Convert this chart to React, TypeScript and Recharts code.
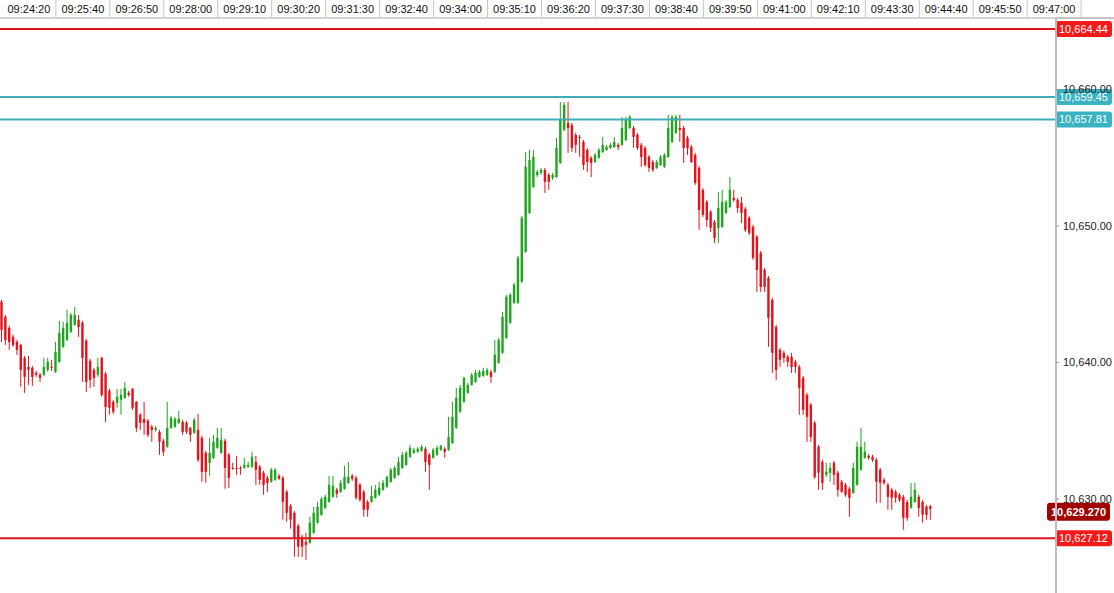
import { Bar, ComposedChart, ReferenceLine, XAxis, YAxis } from 'recharts';

// one row per 5s candle: open, high, low, close
const candles: [number, number, number, number][] = [
  [10644.43, 10644.58, 10641.50, 10642.38], [10643.34, 10643.48, 10641.28, 10641.65], [10642.53, 10642.68, 10640.92, 10641.50],
  [10641.87, 10642.02, 10641.14, 10641.28], [10641.50, 10641.65, 10640.55, 10640.92], [10641.28, 10641.36, 10638.21, 10639.45],
  [10640.33, 10640.48, 10637.77, 10638.94], [10639.67, 10640.48, 10638.35, 10639.45], [10639.60, 10639.75, 10638.28, 10638.94],
  [10639.23, 10639.38, 10638.94, 10639.09], [10639.09, 10639.23, 10638.57, 10638.87], [10639.09, 10640.33, 10639.01, 10639.67],
  [10639.45, 10640.33, 10639.31, 10640.04], [10639.67, 10640.19, 10639.38, 10639.60], [10639.31, 10641.50, 10639.23, 10640.77],
  [10640.04, 10643.04, 10639.97, 10642.16], [10641.14, 10642.97, 10641.06, 10642.53], [10641.65, 10643.85, 10641.58, 10642.90],
  [10642.24, 10643.63, 10642.16, 10643.48], [10642.75, 10644.07, 10642.68, 10643.48], [10643.12, 10643.48, 10641.87, 10642.60],
  [10642.90, 10643.04, 10638.57, 10640.33], [10641.58, 10641.72, 10637.84, 10638.57], [10640.11, 10640.26, 10638.13, 10638.72],
  [10639.45, 10639.60, 10638.21, 10638.87], [10639.09, 10640.33, 10638.94, 10639.67], [10640.33, 10640.41, 10637.48, 10637.62],
  [10639.16, 10639.31, 10635.64, 10636.74], [10637.92, 10638.06, 10636.16, 10636.67], [10637.11, 10637.26, 10636.23, 10636.38],
  [10637.04, 10638.06, 10636.67, 10637.48], [10637.26, 10638.06, 10636.16, 10637.62], [10637.40, 10638.57, 10637.33, 10638.13],
  [10637.77, 10637.92, 10637.48, 10637.62], [10638.06, 10638.13, 10636.52, 10636.67], [10637.11, 10637.18, 10634.91, 10635.20],
  [10636.16, 10636.30, 10635.06, 10635.57], [10635.86, 10637.11, 10634.69, 10635.57], [10635.72, 10635.86, 10634.54, 10634.69],
  [10635.28, 10635.42, 10634.18, 10635.06], [10635.06, 10635.35, 10634.91, 10635.20], [10634.91, 10635.06, 10633.23, 10634.18],
  [10634.25, 10634.40, 10633.15, 10633.45], [10633.81, 10637.11, 10633.74, 10635.20], [10635.20, 10636.08, 10635.13, 10635.94],
  [10635.28, 10636.01, 10635.20, 10635.86], [10635.57, 10636.45, 10635.50, 10635.86], [10635.64, 10635.79, 10634.69, 10634.91],
  [10635.57, 10635.72, 10634.76, 10634.91], [10635.20, 10635.28, 10634.18, 10634.69], [10634.84, 10635.94, 10634.76, 10635.79],
  [10635.06, 10636.23, 10632.71, 10632.86], [10634.47, 10634.62, 10631.25, 10631.98], [10633.37, 10633.52, 10631.17, 10631.98],
  [10632.64, 10634.47, 10631.69, 10633.37], [10633.01, 10634.69, 10632.93, 10634.18], [10633.74, 10635.20, 10633.67, 10634.47],
  [10633.37, 10635.20, 10633.30, 10634.32], [10634.25, 10634.40, 10630.74, 10632.27], [10633.23, 10633.37, 10630.81, 10631.54],
  [10632.27, 10632.64, 10632.13, 10632.20], [10632.27, 10633.15, 10631.76, 10632.20], [10632.27, 10632.42, 10631.76, 10632.20],
  [10632.27, 10633.01, 10632.20, 10632.49], [10632.35, 10632.71, 10632.27, 10632.49], [10632.35, 10633.45, 10632.27, 10633.08],
  [10632.71, 10633.15, 10631.03, 10632.13], [10632.35, 10632.49, 10631.03, 10631.39], [10631.91, 10632.05, 10630.30, 10631.03],
  [10631.54, 10631.69, 10630.52, 10631.17], [10631.25, 10632.27, 10631.17, 10632.13], [10631.39, 10632.27, 10631.32, 10632.13],
  [10631.69, 10631.83, 10631.39, 10631.47], [10631.54, 10631.69, 10628.47, 10629.78], [10630.52, 10630.66, 10628.32, 10628.98],
  [10629.49, 10629.64, 10627.81, 10628.47], [10628.98, 10629.12, 10625.75, 10627.15], [10628.03, 10628.17, 10625.75, 10626.49],
  [10627.22, 10627.37, 10625.75, 10626.49], [10626.85, 10627.51, 10625.53, 10626.63], [10626.78, 10628.69, 10626.71, 10628.25],
  [10627.51, 10629.42, 10627.44, 10628.98], [10628.25, 10629.78, 10628.17, 10629.42], [10628.83, 10630.15, 10628.76, 10630.00],
  [10629.34, 10630.30, 10629.27, 10630.15], [10629.78, 10631.69, 10629.71, 10631.03], [10630.15, 10631.69, 10630.08, 10630.96],
  [10630.66, 10630.81, 10630.08, 10630.37], [10630.52, 10631.39, 10630.44, 10631.17], [10630.74, 10632.42, 10630.66, 10631.61],
  [10631.17, 10632.71, 10631.10, 10631.61], [10631.69, 10631.83, 10631.32, 10631.47], [10631.54, 10631.69, 10629.93, 10630.08],
  [10631.03, 10631.17, 10629.78, 10629.93], [10630.52, 10630.66, 10628.69, 10629.20], [10629.78, 10629.93, 10628.69, 10629.20],
  [10629.78, 10630.96, 10629.71, 10630.22], [10630.08, 10631.03, 10630.00, 10630.66], [10630.30, 10631.25, 10630.22, 10630.81],
  [10630.66, 10631.39, 10630.59, 10631.17], [10630.88, 10631.69, 10630.81, 10631.61],
  [10631.25, 10632.27, 10631.17, 10632.13], [10631.54, 10632.42, 10631.47, 10632.27], [10631.76, 10633.08, 10631.69, 10632.71],
  [10632.27, 10633.45, 10632.20, 10633.23], [10632.49, 10633.52, 10632.42, 10633.37], [10633.08, 10633.96, 10633.01, 10633.74],
  [10633.37, 10633.74, 10633.30, 10633.59], [10633.45, 10633.81, 10633.37, 10633.67], [10633.52, 10633.96, 10633.45, 10633.81],
  [10633.67, 10633.81, 10631.98, 10632.71], [10633.23, 10633.37, 10630.66, 10632.49], [10633.01, 10633.74, 10632.93, 10633.59],
  [10633.23, 10633.89, 10633.15, 10633.74], [10633.59, 10633.96, 10633.52, 10633.89], [10633.67, 10633.81, 10633.01, 10633.45],
  [10633.59, 10636.01, 10633.52, 10634.54], [10634.10, 10637.11, 10634.03, 10636.01], [10635.20, 10638.13, 10635.13, 10637.40],
  [10636.38, 10638.35, 10636.30, 10638.13], [10637.11, 10638.94, 10637.04, 10638.87], [10637.77, 10638.50, 10637.70, 10638.35],
  [10638.35, 10639.23, 10638.28, 10639.09], [10638.57, 10639.45, 10638.50, 10639.23], [10638.94, 10639.45, 10638.87, 10639.31],
  [10639.01, 10639.60, 10638.94, 10639.38], [10639.09, 10639.60, 10639.01, 10639.45], [10639.31, 10639.45, 10638.50, 10638.94],
  [10639.31, 10641.65, 10639.23, 10640.55], [10639.97, 10641.80, 10639.89, 10641.65], [10640.70, 10643.70, 10640.63, 10643.34],
  [10641.80, 10644.95, 10641.72, 10644.80], [10642.90, 10645.09, 10642.82, 10644.95], [10644.36, 10645.83, 10644.29, 10645.68],
  [10644.36, 10647.81, 10644.29, 10647.66], [10645.90, 10650.74, 10645.83, 10650.59], [10648.10, 10655.42, 10648.03, 10654.33],
  [10650.96, 10655.57, 10650.88, 10654.84], [10652.86, 10655.57, 10652.79, 10655.06], [10653.74, 10654.11, 10653.59, 10653.96],
  [10653.89, 10654.25, 10653.74, 10654.11], [10654.11, 10654.25, 10652.42, 10653.23], [10653.74, 10653.89, 10652.64, 10653.23],
  [10653.52, 10653.89, 10653.37, 10653.74], [10653.59, 10656.45, 10653.52, 10655.72],
  [10654.62, 10659.09, 10654.55, 10657.77], [10657.04, 10659.09, 10656.96, 10658.87], [10657.55, 10659.09, 10655.35, 10657.18],
  [10657.40, 10657.55, 10655.42, 10655.72], [10656.67, 10656.82, 10655.35, 10655.94], [10656.52, 10656.67, 10655.06, 10656.45],
  [10656.16, 10656.30, 10654.11, 10654.47], [10655.57, 10655.72, 10653.96, 10654.69], [10654.99, 10655.13, 10653.59, 10654.62],
  [10654.69, 10655.35, 10654.62, 10655.20], [10654.99, 10655.72, 10654.91, 10655.57], [10655.42, 10656.52, 10655.35, 10655.94],
  [10655.57, 10655.94, 10655.50, 10655.79], [10655.72, 10656.08, 10655.64, 10655.94], [10655.79, 10656.52, 10655.72, 10656.16],
  [10655.94, 10656.08, 10655.57, 10655.79], [10655.94, 10657.99, 10655.86, 10657.18], [10656.30, 10657.99, 10656.23, 10657.77],
  [10657.18, 10658.14, 10657.11, 10657.99], [10657.18, 10657.33, 10655.72, 10656.52], [10656.67, 10656.82, 10655.57, 10655.72],
  [10655.94, 10656.08, 10654.33, 10655.06], [10655.72, 10655.86, 10654.33, 10654.47], [10655.06, 10655.20, 10653.96, 10654.25],
  [10654.69, 10654.84, 10653.96, 10654.11], [10654.25, 10654.84, 10654.18, 10654.69], [10654.47, 10655.20, 10654.40, 10655.06],
  [10654.33, 10655.35, 10654.25, 10655.20], [10655.06, 10658.14, 10654.99, 10657.18], [10656.16, 10658.14, 10656.08, 10657.99],
  [10656.82, 10658.14, 10656.74, 10657.99], [10657.18, 10658.14, 10656.16, 10657.04], [10657.18, 10657.33, 10654.62, 10655.72],
  [10656.45, 10656.60, 10655.20, 10655.72], [10655.79, 10655.94, 10654.62, 10654.69], [10655.20, 10655.35, 10653.01, 10653.15],
  [10654.25, 10654.40, 10649.71, 10651.17], [10652.64, 10652.79, 10650.66, 10650.81], [10651.76, 10651.91, 10649.93, 10650.44],
  [10651.03, 10651.17, 10649.56, 10649.86], [10650.30, 10650.44, 10648.76, 10649.12], [10649.86, 10652.49, 10648.76, 10651.32],
  [10649.93, 10652.64, 10649.86, 10651.76], [10650.96, 10651.91, 10650.88, 10651.76], [10651.39, 10653.59, 10651.32, 10652.64],
  [10652.05, 10652.64, 10651.76, 10651.91], [10651.91, 10652.05, 10650.96, 10651.32],
  [10651.69, 10652.13, 10650.22, 10650.96], [10651.25, 10651.39, 10649.56, 10649.71], [10650.59, 10650.74, 10649.34, 10649.49],
  [10649.93, 10650.08, 10647.51, 10647.66], [10649.20, 10649.34, 10645.17, 10646.78], [10648.03, 10648.17, 10645.17, 10645.53],
  [10646.78, 10646.93, 10645.17, 10645.53], [10646.19, 10646.34, 10641.14, 10643.26], [10644.58, 10644.73, 10639.23, 10640.70],
  [10642.60, 10642.75, 10638.72, 10639.45], [10640.92, 10641.06, 10639.67, 10640.19], [10640.70, 10640.85, 10639.97, 10640.33],
  [10640.41, 10640.55, 10639.67, 10640.04], [10640.41, 10640.70, 10639.23, 10639.67], [10640.04, 10640.19, 10639.23, 10639.67],
  [10639.67, 10639.82, 10636.16, 10638.13], [10638.87, 10639.01, 10636.16, 10636.52], [10637.62, 10637.77, 10634.18, 10636.01],
  [10636.89, 10637.04, 10634.18, 10634.54], [10635.57, 10635.72, 10631.47, 10631.61], [10633.81, 10633.96, 10630.66, 10631.91],
  [10632.71, 10632.86, 10630.66, 10631.17], [10631.76, 10632.64, 10631.61, 10631.98], [10631.91, 10632.64, 10631.25, 10632.27],
  [10632.64, 10632.79, 10631.03, 10631.76], [10631.91, 10632.05, 10630.15, 10630.66], [10631.25, 10631.39, 10630.44, 10630.52],
  [10631.03, 10631.17, 10630.15, 10630.30], [10630.74, 10630.88, 10628.69, 10630.08], [10630.44, 10632.64, 10630.37, 10632.27],
  [10631.03, 10634.18, 10630.96, 10633.81], [10632.13, 10635.20, 10632.05, 10633.81], [10633.01, 10634.18, 10632.93, 10633.45],
  [10633.15, 10633.30, 10632.86, 10633.01], [10633.08, 10633.23, 10632.71, 10632.86], [10632.86, 10633.01, 10629.71, 10631.25],
  [10632.13, 10632.27, 10629.71, 10631.17], [10631.39, 10631.54, 10631.03, 10631.17], [10631.03, 10631.17, 10629.20, 10630.15],
  [10630.66, 10630.81, 10629.20, 10630.08], [10630.52, 10630.66, 10629.71, 10630.08], [10630.30, 10630.44, 10629.78, 10629.93],
  [10630.15, 10630.30, 10627.73, 10628.61], [10629.78, 10629.93, 10628.39, 10628.61], [10629.34, 10631.17, 10629.27, 10630.15],
  [10629.78, 10631.17, 10629.71, 10630.66], [10630.15, 10630.30, 10628.69, 10629.34], [10629.78, 10629.93, 10628.25, 10628.83],
  [10629.42, 10629.56, 10628.47, 10628.83], [10629.45, 10629.56, 10628.47, 10629.27],
];

const timeLabels = [
  '09:24:20', '09:25:40', '09:26:50', '09:28:00', '09:29:10', '09:30:20', '09:31:30', '09:32:40', '09:34:00', '09:35:10',
  '09:36:20', '09:37:30', '09:38:40', '09:39:50', '09:41:00', '09:42:10', '09:43:30', '09:44:40', '09:45:50', '09:47:00',
];
const tickSlots = [7, 21, 35, 49, 63, 77, 91, 105, 119, 133, 147, 161, 175, 189, 203, 217, 231, 245, 259, 273];
const slotCount = 274;

const priceTicks = [10630, 10640, 10650, 10660];
const redLevels = [10664.44, 10627.12];
const tealLevels = [10659.45, 10657.81];
const lastPrice = 10629.27;

const GREEN = '#1fa51f';
const RED = '#e3121b';
const FONT = 'Arial, "Liberation Sans", sans-serif';

const rows = Array.from({ length: slotCount }, (_, i) => {
  const c = candles[i];
  return c ? { i, o: c[0], h: c[1], l: c[2], c: c[3] } : { i, o: null, h: null, l: null, c: null };
});

const fmt = (v: number, d = 2) => v.toLocaleString('en-US', { minimumFractionDigits: d, maximumFractionDigits: d });

function Candle(props: any) {
  const { x, y, width, height, payload } = props;
  if (!payload || payload.h == null) return null;
  const top = Math.min(y, y + height);
  const span = Math.abs(height);
  const range = payload.h - payload.l;
  const k = range > 0 ? span / range : 0;
  const yo = top + (payload.h - payload.o) * k;
  const yc = top + (payload.h - payload.c) * k;
  const color = payload.c >= payload.o ? GREEN : RED;
  const cx = x + width / 2;
  return (
    <g>
      <line x1={cx} x2={cx} y1={top} y2={top + span} stroke={color} strokeWidth={1} />
      <rect x={cx - 1.2} y={Math.min(yo, yc)} width={2.4} height={Math.max(Math.abs(yc - yo), 1)} fill={color} />
    </g>
  );
}

function TimeTick({ x, payload }: any) {
  const label = timeLabels[tickSlots.indexOf(payload.value)];
  return (
    <g>
      <text x={x} y={13} textAnchor="middle" fontSize={11} fill="#111" fontFamily={FONT}>{label}</text>
      <line x1={x + 27} x2={x + 27} y1={0} y2={17} stroke="#c4c4c4" />
    </g>
  );
}

function PriceTag({ viewBox, text, fill, bold = false, left = 1, w = 57, h = 16, dy = 0 }: any) {
  if (!viewBox) return null;
  const x0 = viewBox.x + viewBox.width;
  const yc = viewBox.y + dy;
  return (
    <g>
      <rect x={x0 - left} y={yc - h / 2} width={w} height={h} rx={3} fill={fill} />
      <text x={x0 - left + 4} y={yc + 4} fill="#fff" fontSize={11} fontWeight={bold ? 'bold' : 'normal'} fontFamily={FONT}>{text}</text>
    </g>
  );
}

export default function App() {
  return (
    <div style={{ position: 'relative', width: 1114, height: 593, background: '#fff' }}>
      <style>{'body{margin:0}'}</style>
      <ComposedChart width={1114} height={593} data={rows} margin={{ top: 0, right: 0, bottom: 0, left: 0 }}>
        <XAxis
          dataKey="i"
          type="category"
          orientation="top"
          height={18}
          ticks={tickSlots}
          interval={0}
          tickLine={false}
          axisLine={{ stroke: '#c4c4c4', strokeWidth: 1.5 }}
          tick={(p: any) => <TimeTick {...p} />}
        />
        <YAxis
          orientation="right"
          width={58}
          domain={[10623.1, 10665.24]}
          allowDataOverflow
          ticks={priceTicks}
          tickFormatter={(v) => fmt(Number(v))}
          tickSize={3}
          tickMargin={4}
          tick={{ fontSize: 11, fill: '#222', fontFamily: FONT }}
          tickLine={{ stroke: '#999' }}
          axisLine={{ stroke: '#bdbdbd', strokeWidth: 2 }}
        />
        <Bar dataKey={(d: any) => (d.h == null ? null : [d.l, d.h])} shape={Candle} barSize={3} isAnimationActive={false} />
        {redLevels.map((v) => (
          <ReferenceLine
            key={v}
            y={v}
            stroke="#dc141c"
            strokeWidth={2}
            label={(p: any) => <PriceTag {...p} text={fmt(v)} fill="#f41a1a" />}
          />
        ))}
        {tealLevels.map((v) => (
          <ReferenceLine
            key={v}
            y={v}
            stroke="#3fadb8"
            strokeWidth={2}
            label={(p: any) => <PriceTag {...p} text={fmt(v)} fill="#39b3c2" />}
          />
        ))}
        <ReferenceLine
          y={lastPrice}
          stroke="none"
          label={(p: any) => <PriceTag {...p} text={fmt(lastPrice, 3)} fill="#a30000" bold left={9} w={63} h={18} dy={3} />}
        />
      </ComposedChart>
      <div style={{ position: 'absolute', left: 1056, top: 17, width: 58, height: 1.5, background: '#c4c4c4' }} />
    </div>
  );
}
